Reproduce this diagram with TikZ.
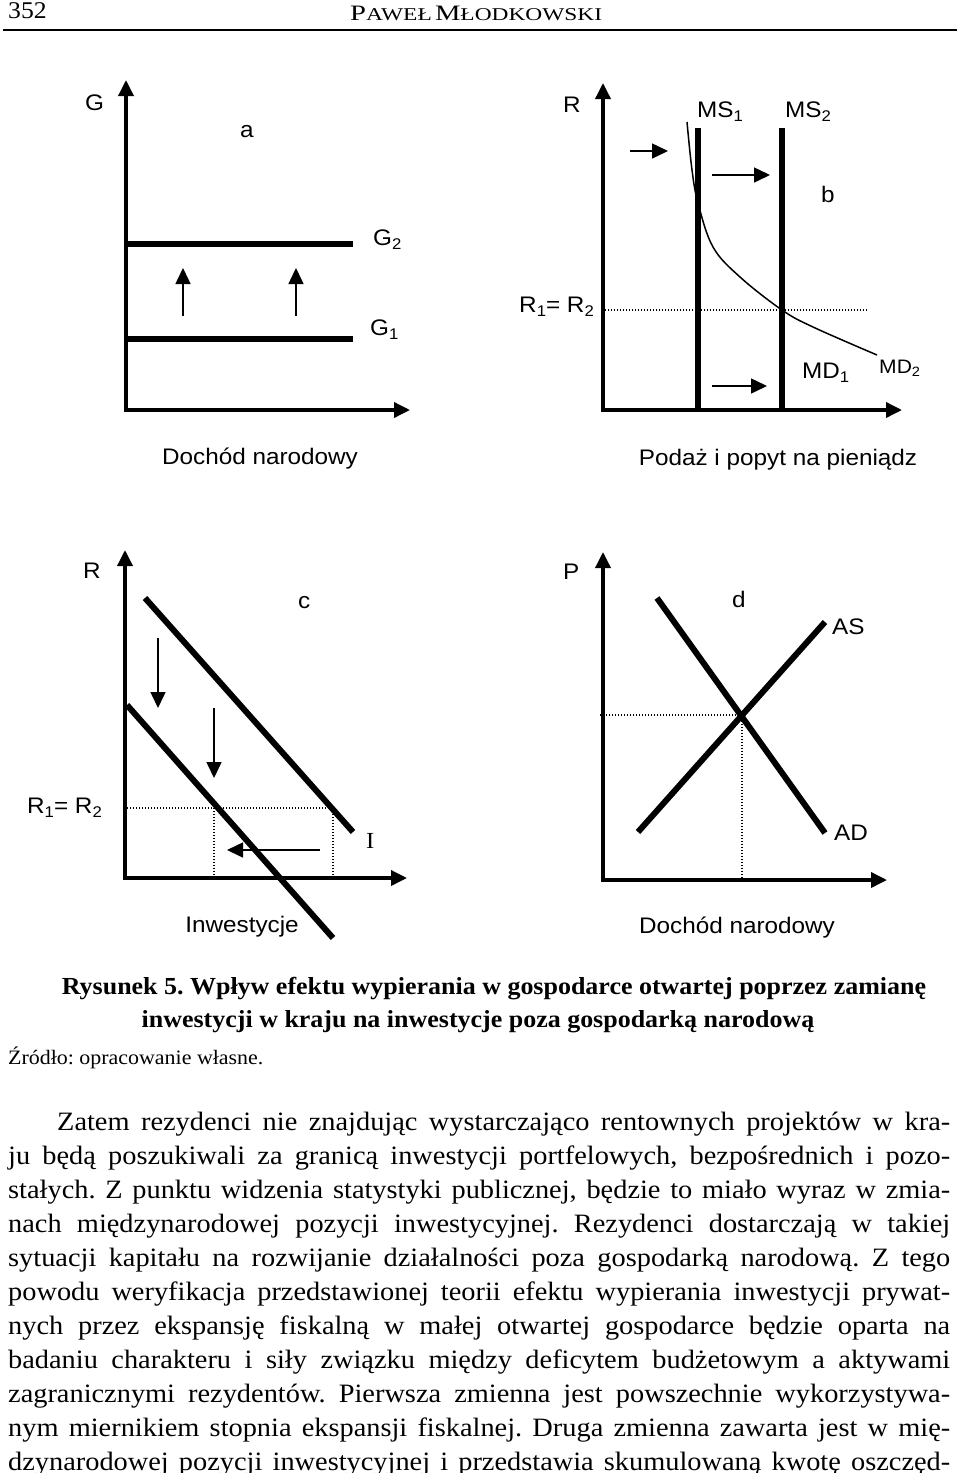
\documentclass[tikz,border=0pt]{standalone}
\usepackage{fontspec}
\setmainfont{Liberation Serif}
\newfontfamily\labfont[FakeStretch=1.08]{Liberation Sans}
\newfontfamily\bodyfont[FakeStretch=1.07]{Liberation Serif}
\newfontfamily\capfont[FakeStretch=1.06]{Liberation Serif}
\newfontfamily\headfont[FakeStretch=1.3]{Liberation Serif}
\usetikzlibrary{arrows.meta}
\newcommand\lsub[1]{\raisebox{-0.22em}{\fontsize{15.5}{15.5}\selectfont #1}}
\frenchspacing
\begin{document}
\begin{tikzpicture}[x=1pt,y=-1pt,
  axes/.style={line width=3.5pt,{Triangle[length=16pt,width=15pt]}-{Triangle[length=16pt,width=15pt]}},
  curve/.style={line width=6pt},
  shift arrow/.style={line width=1.5pt,-{Triangle[length=16pt,width=15pt]}},
  dots/.style={line width=1.2pt,dash pattern=on 1.2pt off 1.8pt},
  lab/.style={font=\labfont\fontsize{22.5}{24}\selectfont,inner sep=0pt,anchor=base west},
  title/.style={font=\labfont\fontsize{22.5}{24}\selectfont,inner sep=0pt,anchor=base},
  bodyline/.style={font=\bodyfont\fontsize{26.5}{30}\selectfont,inner sep=0pt,anchor=base west}]
\useasboundingbox (0,0) rectangle (960,1473);
\fill[white] (0,0) rectangle (960,1473);

% ---------- header ----------
\node[inner sep=0pt,anchor=base west,font=\bodyfont\fontsize{24}{24}\selectfont] (pagenum) at (8,18) {352};
\node[inner sep=0pt,anchor=base west] (author) at (350,20)
  {\headfont{\fontsize{22}{22}\selectfont P}{\fontsize{18}{18}\selectfont AWEŁ} {\fontsize{22}{22}\selectfont M}{\fontsize{18}{18}\selectfont ŁODKOWSKI}};
\coordinate (ruleL) at (3,30);
\coordinate (ruleR) at (957,30);
\draw[line width=1.5pt] (ruleL) -- (ruleR);

% ---------- panel a ----------
\coordinate (aO) at (126,410);
\coordinate (aY) at (126,80);
\coordinate (aX) at (410,410);
\draw[axes] (aY) -- (aO) -- (aX);
\coordinate (g2a) at (126,244); \coordinate (g2b) at (353,244);
\coordinate (g1a) at (126,339); \coordinate (g1b) at (353,339);
\draw[curve] (g2a) -- (g2b);
\draw[curve] (g1a) -- (g1b);
\coordinate (ua1) at (183,316); \coordinate (ub1) at (183,268);
\coordinate (ua2) at (296,316); \coordinate (ub2) at (296,268);
\draw[shift arrow] (ua1) -- (ub1);
\draw[shift arrow] (ua2) -- (ub2);
\node[lab] (Ga) at (85,110) {G};
\node[lab] (la) at (240,137) {a};
\node[lab] (G2) at (373,245) {G\lsub{2}};
\node[lab] (G1) at (370,335) {G\lsub{1}};
\node[title] (ta) at (260,464) {Dochód narodowy};

% ---------- panel b ----------
\coordinate (bO) at (603,410);
\coordinate (bY) at (603,83);
\coordinate (bX) at (902,410);
\draw[axes] (bY) -- (bO) -- (bX);
\coordinate (ms1t) at (698,128); \coordinate (ms1b) at (698,410);
\coordinate (ms2t) at (782,128); \coordinate (ms2b) at (782,410);
\draw[curve] (ms1t) -- (ms1b);
\draw[curve] (ms2t) -- (ms2b);
\coordinate (r1) at (605,310); \coordinate (r2) at (867,310);
\draw[dots] (r1) -- (r2);
\draw[line width=1.5pt] plot[smooth,tension=0.6] coordinates {(687,122) (692,170) (698,203) (713,247) (740,277) (782,310) (813,327) (877,355)};
\coordinate (ba1) at (630,151); \coordinate (bb1) at (668,151);
\coordinate (ba2) at (712,175); \coordinate (bb2) at (770,175);
\coordinate (ba3) at (712,386); \coordinate (bb3) at (767,386);
\draw[shift arrow] (ba1) -- (bb1);
\draw[shift arrow] (ba2) -- (bb2);
\draw[shift arrow] (ba3) -- (bb3);
\node[lab] (Rb) at (563,112) {R};
\node[lab] (MS1) at (697,117) {MS\lsub{1}};
\node[lab] (MS2) at (785,117) {MS\lsub{2}};
\node[lab] (lb) at (821,202) {b};
\node[lab] (Rb12) at (519,312) {R\lsub{1}= R\lsub{2}};
\node[lab] (MD1) at (802,378) {MD\lsub{1}};
\node[lab,font=\labfont\fontsize{19.5}{20}\selectfont] (MD2) at (879,373) {MD\raisebox{-0.2em}{\fontsize{13.5}{13.5}\selectfont 2}};
\node[title] (tb) at (778,465) {Podaż i popyt na pieniądz};

% ---------- panel c ----------
\coordinate (cO) at (125,878);
\coordinate (cY) at (125,550);
\coordinate (cX) at (407,878);
\draw[axes] (cY) -- (cO) -- (cX);
\coordinate (i1a) at (145,598); \coordinate (i1b) at (353,832);
\coordinate (i2a) at (127,705); \coordinate (i2b) at (333,938);
\draw[curve] (i1a) -- (i1b);
\draw[curve] (i2a) -- (i2b);
\coordinate (da1) at (158,638); \coordinate (db1) at (158,708);
\coordinate (da2) at (214,708); \coordinate (db2) at (214,778);
\draw[shift arrow] (da1) -- (db1);
\draw[shift arrow] (da2) -- (db2);
\coordinate (ch1) at (127,808); \coordinate (ch2) at (214,808); \coordinate (ch3) at (333,808);
\coordinate (cv1) at (214,878); \coordinate (cv2) at (333,878);
\draw[dots] (ch1) -- (ch3);
\draw[dots] (ch2) -- (cv1);
\draw[dots] (ch3) -- (cv2);
\coordinate (la1) at (320,850); \coordinate (lb1) at (227,850);
\draw[shift arrow] (la1) -- (lb1);
\node[lab] (Rc) at (83,578) {R};
\node[lab] (lc) at (298,608) {c};
\node[lab] (Rc12) at (27,813) {R\lsub{1}= R\lsub{2}};
\node[inner sep=0pt,anchor=base west,font=\bodyfont\fontsize{23}{23}\selectfont] (Ic) at (366,848) {I};
\node[title] (tc) at (242,932) {Inwestycje};

% ---------- panel d ----------
\coordinate (dO) at (603,880);
\coordinate (dY) at (603,552);
\coordinate (dX) at (887,880);
\draw[axes] (dY) -- (dO) -- (dX);
\coordinate (ad1) at (657,598); \coordinate (ad2) at (825,833);
\coordinate (as1) at (638,832); \coordinate (as2) at (825,622);
\draw[curve] (ad1) -- (ad2);
\draw[curve] (as1) -- (as2);
\coordinate (eq) at (742,715);
\coordinate (eqL) at (600,715);
\coordinate (eqB) at (742,880);
\draw[dots] (eqL) -- (eq);
\draw[dots] (eq) -- (eqB);
\node[lab] (Pd) at (563,579) {P};
\node[lab] (ld) at (732,607) {d};
\node[lab] (AS) at (832,634) {AS};
\node[lab] (AD) at (834,840) {AD};
\node[title] (td) at (737,933) {Dochód narodowy};

% ---------- caption ----------
\node[inner sep=0pt,anchor=base,font=\capfont\bfseries\fontsize{24.5}{30}\selectfont] (cap1) at (494,994)
  {Rysunek 5. Wpływ efektu wypierania w gospodarce otwartej poprzez zamianę};
\node[inner sep=0pt,anchor=base,font=\capfont\bfseries\fontsize{24.5}{30}\selectfont] (cap2) at (478,1027)
  {inwestycji w kraju na inwestycje poza gospodarką narodową};
\node[inner sep=0pt,anchor=base west,font=\bodyfont\fontsize{20.5}{24}\selectfont] (src) at (8,1064)
  {Źródło: opracowanie własne.};

% ---------- body text ----------
\node[bodyline] (t1) at (57,1130) {\makebox[893pt][s]{Zatem rezydenci nie znajdując wystarczająco rentownych projektów w kra-}};
\node[bodyline] (t2) at (8,1164) {\makebox[942pt][s]{ju będą poszukiwali za granicą inwestycji portfelowych, bezpośrednich i pozo-}};
\node[bodyline] (t3) at (8,1198) {\makebox[942pt][s]{stałych. Z punktu widzenia statystyki publicznej, będzie to miało wyraz w zmia-}};
\node[bodyline] (t4) at (8,1232) {\makebox[942pt][s]{nach międzynarodowej pozycji inwestycyjnej. Rezydenci dostarczają w takiej}};
\node[bodyline] (t5) at (8,1266) {\makebox[942pt][s]{sytuacji kapitału na rozwijanie działalności poza gospodarką narodową. Z tego}};
\node[bodyline] (t6) at (8,1300) {\makebox[942pt][s]{powodu weryfikacja przedstawionej teorii efektu wypierania inwestycji prywat-}};
\node[bodyline] (t7) at (8,1334) {\makebox[942pt][s]{nych przez ekspansję fiskalną w małej otwartej gospodarce będzie oparta na}};
\node[bodyline] (t8) at (8,1368) {\makebox[942pt][s]{badaniu charakteru i siły związku między deficytem budżetowym a aktywami}};
\node[bodyline] (t9) at (8,1402) {\makebox[942pt][s]{zagranicznymi rezydentów. Pierwsza zmienna jest powszechnie wykorzystywa-}};
\node[bodyline] (t10) at (8,1436) {\makebox[942pt][s]{nym miernikiem stopnia ekspansji fiskalnej. Druga zmienna zawarta jest w mię-}};
\node[bodyline] (t11) at (8,1470) {\makebox[942pt][s]{dzynarodowej pozycji inwestycyjnej i przedstawia skumulowaną kwotę oszczęd-}};
\end{tikzpicture}
\end{document}
